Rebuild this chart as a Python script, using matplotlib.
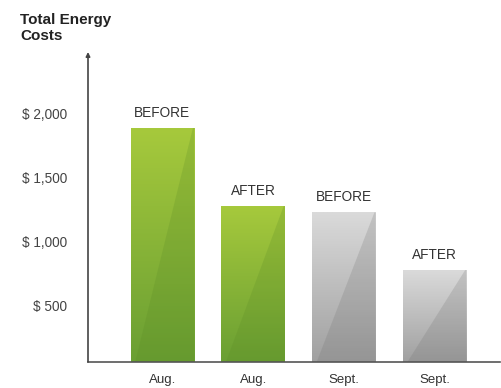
import matplotlib.pyplot as plt
import numpy as np
from matplotlib.colors import LinearSegmentedColormap

plt.rcParams['font.family'] = ['Liberation Sans', 'DejaVu Sans']

months = ['Aug.', 'Aug.', 'Sept.', 'Sept.']
phases = ['BEFORE', 'AFTER', 'BEFORE', 'AFTER']
costs = [1890, 1280, 1230, 780]
tick_vals = [500, 1000, 1500, 2000]
tick_labels = ['$ 500', '$ 1,000', '$ 1,500', '$ 2,000']

# top colour, bottom colour, shade of the diagonal part
green = ('#a6c93c', '#6a9f33', '#5a8a25')
gray = ('#dadada', '#a0a0a0', '#707070')
bar_colors = [green, green, gray, gray]

fig = plt.figure(figsize=(5.01, 3.88), dpi=100)
ax = fig.add_axes([88 / 501, 1 - 362 / 388, 412 / 501, 310 / 388])

ymin, ymax = 62, 2484
x = np.arange(len(costs))
w = 0.7

bars = ax.bar(x, costs, width=w, bottom=0, color='none', zorder=2)
for b, (top, bot, shade) in zip(bars, bar_colors):
    x0 = b.get_x()
    h = b.get_height()
    cmap = LinearSegmentedColormap.from_list('g', [top, bot])
    grad = np.linspace(0, 1, 100).reshape(-1, 1)
    ax.imshow(grad, cmap=cmap, extent=[x0, x0 + w, ymin, h], aspect='auto', zorder=1)
    # darker right part split by a diagonal
    ax.fill([x0 + w, x0 + w, x0 + 0.05, x0 + w * 0.98],
            [h, ymin, ymin, h], color=shade, alpha=0.22, lw=0, zorder=1.5)

for xi, c, p in zip(x, costs, phases):
    ax.annotate(p, (xi, c), xytext=(0, 6), textcoords='offset points',
                ha='center', va='bottom', fontsize=9.8, color='#333333')

ax.set_xlim(-0.82, 3.72)
ax.set_ylim(ymin, ymax)
ax.set_yticks(tick_vals)
ax.set_yticklabels(tick_labels, fontsize=9.8, color='#444444')
ax.set_xticks(x)
ax.set_xticklabels(months, fontsize=9.5, color='#333333')
ax.tick_params(axis='y', length=0, pad=15)
ax.tick_params(axis='x', length=0, pad=9)

for s in ['top', 'right', 'left']:
    ax.spines[s].set_visible(False)
ax.spines['bottom'].set_color('#555555')
ax.spines['bottom'].set_linewidth(1.2)
ax.annotate('', xy=(0, 1), xytext=(0, 0), xycoords='axes fraction',
            arrowprops=dict(arrowstyle='-|>', color='#444444', lw=1.2,
                            mutation_scale=6, shrinkA=0, shrinkB=0))

fig.text(20 / 501, 1 - 28 / 388, 'Total Energy\nCosts', fontsize=11,
         fontweight='bold', color='#222222', ha='left', va='center',
         linespacing=1.15)

fig.savefig('out.png', dpi=100)
